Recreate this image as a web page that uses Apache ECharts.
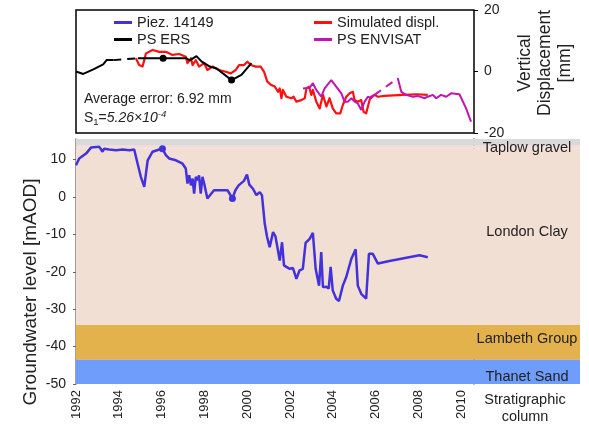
<!DOCTYPE html>
<html>
<head>
<meta charset="utf-8">
<script src="https://cdn.jsdelivr.net/npm/echarts@6/dist/echarts.min.js"></script>
<style>
  html, body { margin: 0; padding: 0; background: #fff; }
  #chart { width: 589px; height: 427px; }
</style>
</head>
<body>
<div id="chart"></div>
<script>
// ---- tick labels ----
const yearTicks = [1992, 1994, 1996, 1998, 2000, 2002, 2004, 2006, 2008, 2010];
const levelTicks = [10, 0, -10, -20, -30, -40, -50];
const dispTicks = [20, 0, -20];

// ---- groundwater level, piezometer 14149 [year, mAOD] ----
const piezLevel = [
  [1992.0, 8.5], [1992.15, 10.3], [1992.47, 11.6], [1992.7, 13.2], [1993.09, 13.4], [1993.24, 12.1],
  [1993.32, 12.9], [1993.55, 12.7], [1993.87, 12.5], [1994.18, 12.7], [1994.49, 12.5], [1994.72, 12.7],
  [1994.8, 12.5], [1994.88, 8.9], [1995.03, 5.4], [1995.19, 2.7], [1995.27, 6.3], [1995.35, 9.8],
  [1995.58, 12.1], [1995.89, 12.7], [1996.04, 12.9], [1996.2, 11.2], [1996.35, 10.3], [1996.67, 9.8],
  [1996.98, 8.9], [1997.13, 7.6], [1997.21, 3.6], [1997.29, 5.8], [1997.37, 3.1], [1997.45, 4.9],
  [1997.52, 0.9], [1997.6, 5.4], [1997.68, 4.5], [1997.75, 5.8], [1997.83, 0.9], [1997.91, 5.4],
  [1997.99, 3.6], [1998.14, -0.4], [1998.45, 1.8], [1999.08, 1.8], [1999.31, -0.4], [1999.45, 1.8],
  [1999.6, 3.1], [1999.85, 4.3], [1999.99, 6.0], [2000.1, 3.3], [2000.27, 2.2], [2000.43, 0.5],
  [2000.59, 1.3], [2000.69, 0.5], [2000.82, -7.1], [2000.93, -10.7], [2001.05, -13.4], [2001.21, -9.4],
  [2001.32, -10.5], [2001.44, -14.3], [2001.52, -17.0], [2001.63, -12.1], [2001.72, -18.3], [2001.83, -18.7],
  [2001.99, -19.2], [2002.14, -19.0], [2002.3, -21.9], [2002.45, -19.6], [2002.6, -19.2], [2002.73, -12.3],
  [2002.92, -11.2], [2003.07, -9.6], [2003.2, -19.2], [2003.36, -23.7], [2003.46, -14.7], [2003.54, -24.1],
  [2003.7, -24.0], [2003.81, -24.5], [2003.9, -18.7], [2004.0, -25.0], [2004.16, -27.2], [2004.29, -27.8],
  [2004.47, -23.7], [2004.63, -21.4], [2004.87, -16.5], [2005.07, -14.0], [2005.17, -23.7], [2005.33, -25.9],
  [2005.56, -27.2], [2005.69, -15.2], [2005.87, -15.2], [2006.11, -17.8], [2006.65, -17.1], [2008.05, -15.6],
  [2008.44, -16.1]
];
const piezMarked = [20, 40];

// ---- vertical displacement [year, mm] ----
const simulatedDispl = [
  [1994.8, 4.3], [1994.95, 2.1], [1995.11, 1.6], [1995.19, 3.7], [1995.27, 5.9], [1995.58, 7.0],
  [1995.89, 6.4], [1996.2, 6.4], [1996.51, 5.4], [1996.82, 5.7], [1997.13, 4.8], [1997.21, 2.7],
  [1997.37, 4.3], [1997.45, 2.1], [1997.6, 3.7], [1997.75, 1.6], [1997.99, 2.7], [1998.14, 0.5],
  [1998.38, 1.6], [1998.69, 0.5], [1999.0, -0.1], [1999.23, -0.6], [1999.47, 0.5], [1999.62, 2.1],
  [1999.85, 2.1], [2000.01, 3.2], [2000.17, 2.1], [2000.4, 1.6], [2000.63, 1.6], [2000.79, -0.1],
  [2000.94, -3.3], [2001.13, -4.4], [2001.29, -4.9], [2001.44, -6.6], [2001.52, -5.5], [2001.6, -8.7],
  [2001.67, -6.0], [2001.83, -8.2], [2002.07, -8.7], [2002.17, -8.2], [2002.3, -9.8], [2002.53, -9.3],
  [2002.69, -8.7], [2002.77, -5.5], [2002.89, -4.9], [2003.0, -7.6], [2003.07, -6.0], [2003.23, -9.8],
  [2003.39, -12.0], [2003.54, -7.6], [2003.7, -11.4], [2003.85, -8.7], [2004.0, -12.0], [2004.16, -13.6],
  [2004.35, -13.6], [2004.47, -10.9], [2004.63, -8.2], [2004.79, -7.1], [2004.94, -6.6], [2005.02, -9.3],
  [2005.17, -9.8], [2005.33, -9.3], [2005.44, -13.1], [2005.56, -13.6], [2005.72, -9.3], [2005.79, -8.2],
  [2005.95, -7.6], [2006.11, -8.2], [2006.42, -7.9], [2007.27, -7.6], [2007.9, -7.4], [2008.44, -7.6]
];
const ersEarly = [
  [1992.0, 0.0], [1992.34, -0.8], [1992.81, 0.7], [1993.27, 2.3], [1993.43, 3.7], [1993.74, 3.7]
];
const ersLate = [
  [1994.9, 4.3], [1996.07, 4.3], [1997.16, 4.3], [1997.32, 3.6], [1997.63, 5.0], [1997.86, 3.3],
  [1998.25, 1.6], [1998.57, 1.0], [1999.27, -2.8], [1999.73, -1.1], [2000.2, 2.7]
];
const ersMarked = [1, 8];
const envisatEarly = [
  [2002.61, -5.5], [2002.92, -5.3], [2003.07, -3.8], [2003.23, -6.0], [2003.46, -8.2], [2003.62, -5.5],
  [2003.93, -2.8], [2004.16, -4.9], [2004.4, -7.1], [2004.55, -9.8], [2004.71, -9.8], [2004.87, -8.7],
  [2005.02, -9.8], [2005.17, -10.4], [2005.33, -12.5], [2005.49, -9.8], [2005.64, -8.2], [2005.79, -8.7],
  [2005.95, -7.6]
];
const envisatLate = [
  [2007.04, -2.2], [2007.2, -6.6], [2007.43, -7.6], [2007.74, -8.2], [2008.0, -8.0], [2008.29, -8.7],
  [2008.44, -8.2], [2008.68, -7.6], [2008.83, -8.7], [2009.06, -7.6], [2009.3, -8.2], [2009.53, -7.1],
  [2009.92, -7.4], [2010.23, -12.0], [2010.46, -16.3]
];

// ---- stratigraphy [mAOD] ----
const layerNames = ['Taplow gravel', '', 'London Clay', 'Lambeth Group', 'Thanet Sand'];
const layerTop = [15.5, 13.7, 12.9, -34.2, -43.5];
const layerBase = [13.7, 12.9, -34.2, -43.5, -50];

// styling
const layerColors = ['#d9d9d9', '#f8dcda', '#f2dfd3', '#e4b24c', '#6e9dfb'];
const layerLabelShift = [6, 0, -5, -3, 5];
const FONT = 'Liberation Sans, Arial, sans-serif';
const TXT = '#222';
const C_PIEZ = '#4232dc', C_SIM = '#ff1010', C_ERS = '#000000', C_ENV = '#c014b4';

const chart = echarts.init(document.getElementById('chart'), null, { renderer: 'canvas' });

function bands(withLabels) {
  return layerNames.map((name, i) => [
    {
      yAxis: layerTop[i],
      itemStyle: { color: layerColors[i], opacity: 1 },
      label: withLabels && name ? {
        show: true, formatter: name, position: 'inside', offset: [0, layerLabelShift[i]],
        color: TXT, fontSize: 14.5, fontFamily: FONT
      } : { show: false }
    },
    { yAxis: layerBase[i] }
  ]);
}

// one legend entry per component so the four keys sit in a 2 x 2 block
function legendEntry(name, left, top) {
  return {
    left: left, top: top, data: [name], padding: 0,
    icon: 'rect', itemWidth: 18, itemHeight: 3, itemGap: 4, orient: 'horizontal',
    backgroundColor: 'transparent', selectedMode: false, z: 1,
    textStyle: { fontSize: 14.5, fontFamily: FONT, color: TXT }
  };
}

function lineSeries(name, data, color, width, z, extra) {
  return Object.assign({
    name: name, type: 'line', xAxisIndex: 0, yAxisIndex: 0, data: data,
    symbol: 'none', z: z,
    lineStyle: { color: color, width: width }, itemStyle: { color: color }
  }, extra || {});
}

// model curve: one polyline through every point, mapped with the panel's axes
function simulatedSeries() {
  return {
    name: 'Simulated displ.', type: 'custom', coordinateSystem: 'cartesian2d',
    xAxisIndex: 0, yAxisIndex: 0, data: simulatedDispl, z: 3, clip: true,
    itemStyle: { color: C_SIM },
    renderItem: function (params, api) {
      if (params.dataIndex !== 0) return null;
      const pts = simulatedDispl.map(p => api.coord(p));
      return {
        type: 'polyline',
        shape: { points: pts },
        style: { stroke: C_SIM, lineWidth: 2.2, fill: null, lineJoin: 'round' }
      };
    }
  };
}

const option = {
  animation: false,
  backgroundColor: '#fff',
  grid: [
    { left: 76, top: 10, width: 398, height: 123, show: true, borderColor: '#000', borderWidth: 1.5, backgroundColor: 'transparent' },
    { left: 76, top: 139, width: 398, height: 245 },
    { left: 474, top: 139, width: 106, height: 245 }
  ],
  xAxis: [
    { gridIndex: 0, type: 'value', min: 1992, max: 2010.6, show: false },
    {
      gridIndex: 1, type: 'value', min: 1992, max: 2010.6, interval: 2,
      axisLine: { show: true, lineStyle: { color: '#888', width: 1 } },
      axisTick: { show: true, length: 4, lineStyle: { color: '#888' }, customValues: yearTicks },
      axisLabel: {
        rotate: 90, fontSize: 13, fontFamily: FONT, color: TXT, margin: 6, customValues: yearTicks,
        formatter: v => String(v)
      },
      splitLine: { show: false }
    },
    { gridIndex: 2, type: 'value', min: 0, max: 1, show: false }
  ],
  yAxis: [
    {
      gridIndex: 0, type: 'value', position: 'right', min: -20, max: 20, interval: 20,
      axisLine: { show: false },
      axisTick: { show: true, length: 4, lineStyle: { color: '#000' }, customValues: dispTicks },
      axisLabel: { fontSize: 14, fontFamily: FONT, color: TXT, margin: 10, customValues: dispTicks },
      splitLine: { show: false }
    },
    {
      gridIndex: 1, type: 'value', min: -50, max: 15.5, interval: 10,
      axisLine: { show: true, lineStyle: { color: '#8a7f7f', width: 1.5 } },
      axisTick: { show: true, length: 3, lineStyle: { color: '#666' }, customValues: levelTicks },
      axisLabel: { fontSize: 14, fontFamily: FONT, color: TXT, margin: 10, customValues: levelTicks },
      splitLine: { show: false }
    },
    {
      gridIndex: 2, type: 'value', min: -50, max: 15.5,
      axisLine: { show: true, lineStyle: { color: '#6a5e5e', width: 1.5 } },
      axisTick: { show: false }, axisLabel: { show: false }, splitLine: { show: false }
    }
  ],
  legend: [
    legendEntry('Piez. 14149', 114, 15),
    legendEntry('Simulated displ.', 314, 15),
    legendEntry('PS ERS', 114, 32),
    legendEntry('PS ENVISAT', 314, 32)
  ],
  graphic: [
    {
      type: 'text', left: 84, top: 92, z: 1,
      style: { text: 'Average error: 6.92 mm', fontSize: 14, fontFamily: FONT, fill: TXT }
    },
    {
      type: 'text', left: 84, top: 109, z: 1,
      style: {
        text: '{a|S}{b|1}{a|=}{c|5.26×10}{d|-4}',
        rich: {
          a: { fontSize: 14, fontFamily: FONT, fill: TXT, lineHeight: 18 },
          b: { fontSize: 9.5, fontFamily: FONT, fill: TXT, verticalAlign: 'bottom', lineHeight: 18 },
          c: { fontSize: 14, fontFamily: FONT, fill: TXT, fontStyle: 'italic', lineHeight: 18 },
          d: { fontSize: 9.5, fontFamily: FONT, fill: TXT, fontStyle: 'italic', verticalAlign: 'top', lineHeight: 18 }
        }
      }
    },
    {
      type: 'text', x: 31, y: 292, rotation: Math.PI / 2,
      style: { text: 'Groundwater level [mAOD]', fontSize: 19, fontFamily: FONT, fill: TXT, align: 'center', verticalAlign: 'middle' }
    },
    {
      type: 'text', x: 545, y: 63, rotation: Math.PI / 2,
      style: { text: 'Vertical\nDisplacement\n[mm]', fontSize: 17.5, lineHeight: 20, fontFamily: FONT, fill: TXT, align: 'center', verticalAlign: 'middle' }
    },
    {
      type: 'text', x: 525, y: 408,
      style: { text: 'Stratigraphic\ncolumn', fontSize: 14.5, lineHeight: 17, fontFamily: FONT, fill: TXT, align: 'center', verticalAlign: 'middle' }
    }
  ],
  series: [
    // stratigraphic bands behind the groundwater curve
    {
      type: 'line', xAxisIndex: 1, yAxisIndex: 1, data: [[1992, -50]], symbol: 'none',
      lineStyle: { opacity: 0 }, silent: true, z: 1,
      markArea: { silent: true, data: bands(false) }
    },
    // stratigraphic column with layer names
    {
      type: 'line', xAxisIndex: 2, yAxisIndex: 2, data: [[0, -50]], symbol: 'none',
      lineStyle: { opacity: 0 }, silent: true, z: 1,
      markArea: { silent: true, data: bands(true) }
    },
    {
      name: 'Piez. 14149', type: 'line', xAxisIndex: 1, yAxisIndex: 1, data: piezLevel,
      symbol: 'none', z: 3, lineStyle: { color: C_PIEZ, width: 2.5 }, itemStyle: { color: C_PIEZ },
      markPoint: {
        symbol: 'circle', symbolSize: 7, itemStyle: { color: C_PIEZ }, label: { show: false },
        data: piezMarked.map(i => ({ coord: piezLevel[i] }))
      }
    },
    simulatedSeries(),
    lineSeries('PS ERS', ersEarly, C_ERS, 2, 4),
    lineSeries('PS ERS', [ersEarly[ersEarly.length - 1], ersLate[0]], C_ERS, 2, 4, {
      lineStyle: { color: C_ERS, width: 2, type: [8, 6] }
    }),
    lineSeries('PS ERS', ersLate, C_ERS, 2, 4, {
      markPoint: {
        symbol: 'circle', symbolSize: 7, itemStyle: { color: C_ERS }, label: { show: false },
        data: ersMarked.map(i => ({ coord: ersLate[i] }))
      }
    }),
    lineSeries('PS ENVISAT', envisatEarly, C_ENV, 2, 5),
    lineSeries('PS ENVISAT', [envisatEarly[envisatEarly.length - 1], envisatLate[0]], C_ENV, 2, 5, {
      lineStyle: { color: C_ENV, width: 2, type: [8, 6] }
    }),
    lineSeries('PS ENVISAT', envisatLate, C_ENV, 2, 5)
  ]
};

chart.setOption(option);
</script>
</body>
</html>
